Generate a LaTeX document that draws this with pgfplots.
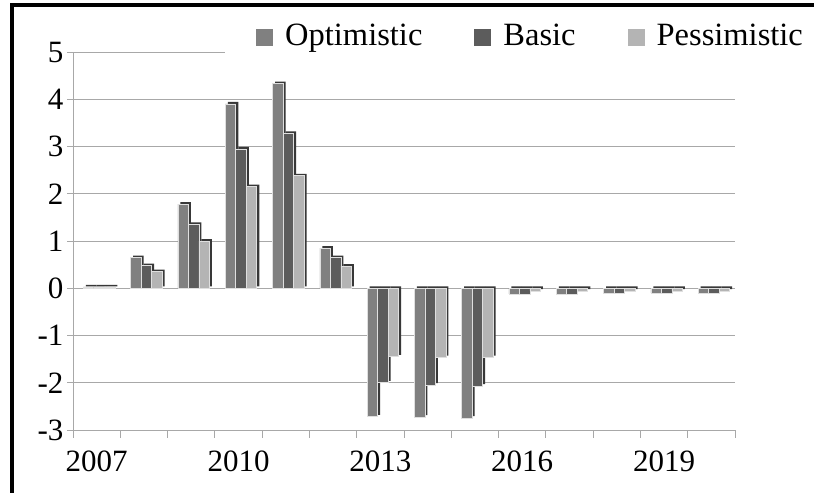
\documentclass[border=0pt]{standalone}
\usepackage{pgfplots}
\usepackage{pgfplotstable}
\pgfplotsset{compat=1.18}
\usepackage{fontspec}
\setmainfont{Liberation Serif}
\definecolor{optc}{HTML}{808080}
\definecolor{basc}{HTML}{5C5C5C}
\definecolor{pesc}{HTML}{B4B4B4}
\definecolor{depthc}{HTML}{383838}
\definecolor{gridc}{HTML}{A8A8A8}
\pgfplotstableread{
x opt basic pess
0 0.03 0.03 0.03
1 0.65 0.48 0.35
2 1.78 1.35 1.00
3 3.90 2.95 2.15
4 4.33 3.28 2.38
5 0.85 0.65 0.47
6 -2.72 -2.00 -1.45
7 -2.73 -2.05 -1.47
8 -2.75 -2.07 -1.47
9 -0.12 -0.12 -0.06
10 -0.12 -0.12 -0.06
11 -0.10 -0.10 -0.06
12 -0.10 -0.10 -0.06
13 -0.10 -0.10 -0.06
}\data
\newcommand{\bigfont}{\fontsize{31bp}{36bp}\selectfont}
\newcommand{\legfont}{\fontsize{32.5bp}{38bp}\selectfont}
\begin{document}
\begin{tikzpicture}
\begin{axis}[
  at={(73bp,63bp)}, anchor=south west,
  scale only axis, width=662bp, height=378bp,
  xmin=-0.5, xmax=13.5, ymin=-3, ymax=5,
  axis x line=bottom, axis y line=left,
  axis line style={gridc, line width=1bp, -},
  ybar, bar width=10.5bp,
  xtick={0,3,6,9,12},
  xticklabels={2007,2010,2013,2016,2019},
  minor xtick={-0.5,0.5,...,13.5},
  major x tick style={draw=none},
  minor x tick style={gridc, line width=1bp},
  minor tick length=8bp,
  ytick={-3,-2,-1,0,1,2,3,4,5},
  yticklabels={-3,-2,-1,0,1,2,3,4,5},
  y tick style={gridc, line width=1bp},
  major tick length=6bp,
  tick align=outside,
  ymajorgrids,
  major grid style={gridc, line width=1bp},
  ticklabel style={font=\bigfont},
  xticklabel style={yshift=-11bp},
  legend style={at={(0.2296,1.102)}, anchor=north west, draw=none, fill=white,
    font=\legfont, inner xsep=31bp, inner ysep=10bp,
    nodes={inner sep=0pt},
    /tikz/every odd column/.append style={column sep=12bp},
    /tikz/every even column/.append style={column sep=52bp}},
  legend columns=3,
  legend image code/.code={\fill[#1,draw=none] (0bp,-11bp) rectangle (17bp,6bp);},
]
\addplot[fill=depthc, draw=none, bar shift=-5.5bp, yshift=2bp, forget plot] table[x=x,y=opt]{\data};
\addplot[fill=optc, draw=white!75!gray, line width=0.6bp, bar shift=-8bp] table[x=x,y=opt]{\data};
\addplot[fill=depthc, draw=none, bar shift=5bp, yshift=2bp, forget plot] table[x=x,y=basic]{\data};
\addplot[fill=basc, draw=white!75!gray, line width=0.6bp, bar shift=2.5bp] table[x=x,y=basic]{\data};
\addplot[fill=depthc, draw=none, bar shift=15.5bp, yshift=2bp, forget plot] table[x=x,y=pess]{\data};
\addplot[fill=pesc, draw=white!75!gray, line width=0.6bp, bar shift=13bp] table[x=x,y=pess]{\data};
\legend{Optimistic,Basic,Pessimistic}
\end{axis}
\draw[line width=4bp, line join=miter] (12bp,0bp) -- (12bp,488bp) -- (814bp,488bp);
\pgfresetboundingbox
\useasboundingbox (0bp,0bp) rectangle (814bp,493bp);
\end{tikzpicture}
\end{document}
